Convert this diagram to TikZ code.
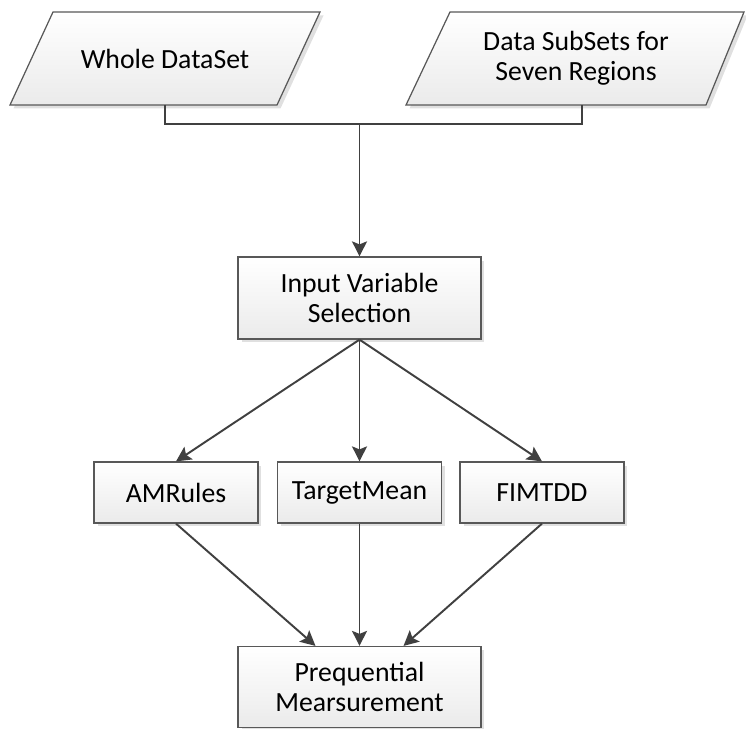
\documentclass[tikz,border=0pt]{standalone}
\usepackage{fontspec}
\setmainfont{Carlito}
\usepackage{tikz}
\usetikzlibrary{arrows.meta}
\usetikzlibrary{shadows}

\definecolor{edgegray}{RGB}{64,64,64}
\definecolor{rimgray}{RGB}{88,88,88}
\tikzset{
  boxfill/.style={draw=rimgray, line width=0.7pt, top color=white, bottom color=black!8,
    drop shadow={shadow xshift=0.07cm, shadow yshift=-0.07cm, fill=black!12, opacity=1}},
  boxtext/.style={align=center, font=\fontsize{15.8}{17}\selectfont, inner sep=0pt},
  procbox/.style={boxfill, boxtext},
  link/.style={draw=edgegray, line width=1.1pt},
  flow/.style={link, -{Stealth[length=0.3cm, width=0.3cm, inset=0.06cm]}},
}

\begin{document}
\begin{tikzpicture}[x=0.02cm, y=-0.02cm]
\useasboundingbox (0,0) rectangle (746,729);

\path[boxfill] (10,105) -- (53,12) -- (320,12) -- (277,105) -- cycle;
\node[boxtext] (whole) at (165,58.5) {Whole DataSet};
\coordinate (whole foot) at (165,105);

\path[boxfill] (406,105) -- (450,12) -- (744,12) -- (706,105) -- cycle;
\node[boxtext] (subsets) at (576,58.5) {Data SubSets for\\Seven Regions};
\coordinate (subsets foot) at (582,105);

\node[procbox, minimum width=4.86cm, minimum height=1.64cm] (select) at (359.5,298) {Input Variable\\Selection};

\node[procbox, minimum width=3.28cm, minimum height=1.22cm] (amrules) at (176,492.5) {AMRules};
\node[procbox, minimum width=3.28cm, minimum height=1.22cm] (targetmean) at (359.5,492.5) {TargetMean};
\node[procbox, minimum width=3.28cm, minimum height=1.22cm] (fimtdd) at (542,492.5) {FIMTDD};

\node[procbox, minimum width=4.86cm, minimum height=1.62cm] (preq) at (359.5,687) {Prequential\\Mearsurement};

\coordinate (merge) at (359.5,124);
\draw[link] (whole foot) |- (merge) -| (subsets foot);
\draw[flow] (merge) -- (select);

\draw[flow] (select.south) -- (amrules.north);
\draw[flow] (select.south) -- (targetmean.north);
\draw[flow] (select.south) -- (fimtdd.north);

\draw[flow] (amrules.south) -- ([xshift=-0.88cm]preq.north);
\draw[flow] (targetmean.south) -- (preq.north);
\draw[flow] (fimtdd.south) -- ([xshift=0.88cm]preq.north);
\end{tikzpicture}
\end{document}
